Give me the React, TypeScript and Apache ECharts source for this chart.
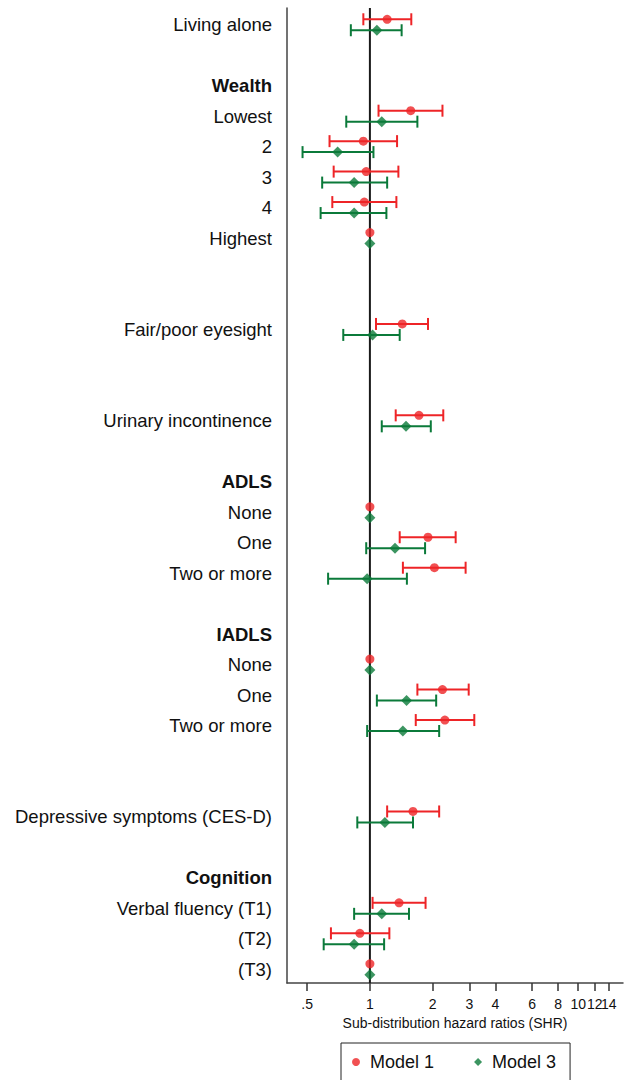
import React, { useEffect, useRef } from "react";
import * as echarts from "echarts";

// Row labels on the left (row index = position from the top)
const rowLabels = [
  "Living alone", "Wealth", "Lowest", "2", "3", "4", "Highest",
  "Fair/poor eyesight", "Urinary incontinence",
  "ADLS", "None", "One", "Two or more",
  "IADLS", "None", "One", "Two or more",
  "Depressive symptoms (CES-D)",
  "Cognition", "Verbal fluency (T1)", "(T2)", "(T3)",
];
const rowPositions = [0, 2, 3, 4, 5, 6, 7, 10, 13, 15, 16, 17, 18, 20, 21, 22, 23, 26, 28, 29, 30, 31];
const headerLabels = ["Wealth", "ADLS", "IADLS", "Cognition"];

// Estimated rows (row index of each estimate)
const itemRows = [0, 3, 4, 5, 6, 7, 10, 13, 16, 17, 18, 21, 22, 23, 26, 29, 30, 31];

const model1Est = [1.21, 1.57, 0.93, 0.96, 0.94, 1, 1.43, 1.72, 1, 1.9, 2.04, 1, 2.23, 2.29, 1.61, 1.38, 0.895, 1];
const model1Lo = [0.93, 1.1, 0.64, 0.67, 0.66, null, 1.07, 1.33, null, 1.39, 1.44, null, 1.69, 1.66, 1.21, 1.03, 0.65, null];
const model1Hi = [1.58, 2.23, 1.35, 1.37, 1.34, null, 1.9, 2.25, null, 2.58, 2.88, null, 2.98, 3.17, 2.15, 1.85, 1.24, null];

const model3Est = [1.08, 1.14, 0.7, 0.84, 0.84, 1, 1.03, 1.49, 1, 1.32, 0.97, 1, 1.5, 1.44, 1.18, 1.14, 0.84, 1];
const model3Lo = [0.81, 0.77, 0.475, 0.59, 0.58, null, 0.745, 1.14, null, 0.96, 0.63, null, 1.08, 0.97, 0.87, 0.84, 0.6, null];
const model3Hi = [1.42, 1.69, 1.04, 1.21, 1.2, null, 1.39, 1.96, null, 1.84, 1.505, null, 2.08, 2.15, 1.61, 1.54, 1.17, null];

const xTicks = [0.5, 1, 2, 3, 4, 6, 8, 10, 12, 14];
const xTickLabels = [".5", "1", "2", "3", "4", "6", "8", "10", "12", "14"];
const X_MIN = 0.4;
const X_MAX = 16.4;

const RED = "#ee2427";
const GREEN = "#0b7a3a";
const FONT = "'Liberation Sans', Arial, sans-serif";
const Y_MIN = -0.55;
const Y_MAX = 31.45;
const DODGE = 0.18;

function barData(lo: (number | null)[], hi: (number | null)[], shift: number) {
  const out: number[][] = [];
  lo.forEach((l, i) => {
    const h = hi[i];
    if (l != null && h != null) out.push([l, h, itemRows[i] + shift]);
  });
  return out;
}

function makeRender(color: string) {
  return (params: any, api: any) => {
    const a = api.coord([api.value(0), api.value(2)]);
    const b = api.coord([api.value(1), api.value(2)]);
    const h = 6;
    const style = { stroke: color, lineWidth: 2 };
    return {
      type: "group",
      children: [
        { type: "line", shape: { x1: a[0], y1: a[1], x2: b[0], y2: b[1] }, style },
        { type: "line", shape: { x1: a[0], y1: a[1] - h, x2: a[0], y2: a[1] + h }, style },
        { type: "line", shape: { x1: b[0], y1: b[1] - h, x2: b[0], y2: b[1] + h }, style },
      ],
    };
  };
}

export default function App() {
  const ref = useRef<HTMLDivElement>(null);

  useEffect(() => {
    if (!ref.current) return;
    const chart = echarts.init(ref.current, null, { renderer: "svg" });
    // an empty label at the axis end keeps min/max overlap logic from hiding 12 or 14
    const labelValues = [...xTicks, X_MAX];
    const option: any = {
      animation: false,
      backgroundColor: "#ffffff",
      textStyle: { fontFamily: FONT },
      grid: { left: 287, right: 5, top: 8, bottom: 97 },
      legend: {
        data: [
          { name: "Model 1", icon: "circle" },
          { name: "Model 3", icon: "diamond" },
        ],
        left: 341,
        top: 1043,
        orient: "horizontal",
        itemWidth: 8,
        itemHeight: 8,
        itemGap: 40,
        borderColor: "#222",
        borderWidth: 1,
        borderRadius: 0,
        padding: [10, 14, 30, 11],
        textStyle: { fontSize: 18, color: "#111", fontFamily: FONT, padding: [0, 0, 0, 5] },
      },
      xAxis: {
        type: "log",
        logBase: 2,
        min: X_MIN,
        max: X_MAX,
        name: "Sub-distribution hazard ratios (SHR)",
        nameLocation: "middle",
        nameGap: 31,
        nameTextStyle: { fontSize: 14, color: "#111", fontFamily: FONT },
        axisLine: { show: true, onZero: false, lineStyle: { color: "#444", width: 1.5 } },
        axisTick: { show: true, customValues: xTicks, length: 8, lineStyle: { color: "#333", width: 1.5 } },
        axisLabel: {
          show: true,
          customValues: labelValues,
          hideOverlap: false,
          showMinLabel: true,
          showMaxLabel: true,
          margin: 14,
          fontSize: 14,
          color: "#111",
          fontFamily: FONT,
          formatter: (v: number) => {
            const i = xTicks.findIndex((t) => Math.abs(t - v) < 1e-6);
            return i >= 0 ? xTickLabels[i] : "";
          },
        },
        splitLine: { show: false },
        minorTick: { show: false },
      },
      yAxis: {
        type: "value",
        inverse: true,
        min: Y_MIN,
        max: Y_MAX,
        axisLine: { show: true, onZero: false, lineStyle: { color: "#444", width: 1.5 } },
        axisTick: { show: false },
        splitLine: { show: false },
        axisLabel: {
          show: true,
          customValues: rowPositions,
          hideOverlap: false,
          margin: 15,
          fontSize: 18.5,
          color: "#111",
          fontFamily: FONT,
          formatter: (v: number) => {
            const i = rowPositions.findIndex((p) => Math.abs(p - v) < 1e-6);
            if (i < 0) return "";
            const lab = rowLabels[i];
            return headerLabels.includes(lab) ? `{b|${lab}}` : lab;
          },
          rich: {
            b: { fontWeight: "bold", fontSize: 18.5, color: "#111", fontFamily: FONT },
          },
        },
      },
      series: [
        {
          name: "ref",
          type: "line",
          data: [[1, Y_MIN], [1, Y_MAX]],
          symbol: "none",
          silent: true,
          z: 1,
          lineStyle: { color: "#1a1a1a", width: 2 },
        },
        {
          name: "m1bars",
          type: "custom",
          renderItem: makeRender(RED),
          data: barData(model1Lo, model1Hi, -DODGE),
          encode: { x: [0, 1], y: 2 },
          z: 2,
          silent: true,
        },
        {
          name: "m3bars",
          type: "custom",
          renderItem: makeRender(GREEN),
          data: barData(model3Lo, model3Hi, DODGE),
          encode: { x: [0, 1], y: 2 },
          z: 2,
          silent: true,
        },
        {
          name: "Model 1",
          type: "scatter",
          symbol: "circle",
          symbolSize: 9,
          itemStyle: { color: RED },
          data: model1Est.map((v, i) => [v, itemRows[i] - DODGE]),
          z: 3,
        },
        {
          name: "Model 3",
          type: "scatter",
          symbol: "diamond",
          symbolSize: 11,
          itemStyle: { color: GREEN },
          data: model3Est.map((v, i) => [v, itemRows[i] + DODGE]),
          z: 3,
        },
      ],
    };
    chart.setOption(option);
    return () => chart.dispose();
  }, []);

  return (
    <div
      ref={ref}
      style={{ position: "absolute", left: 0, top: 0, width: 628, height: 1080, background: "#fff" }}
    />
  );
}
